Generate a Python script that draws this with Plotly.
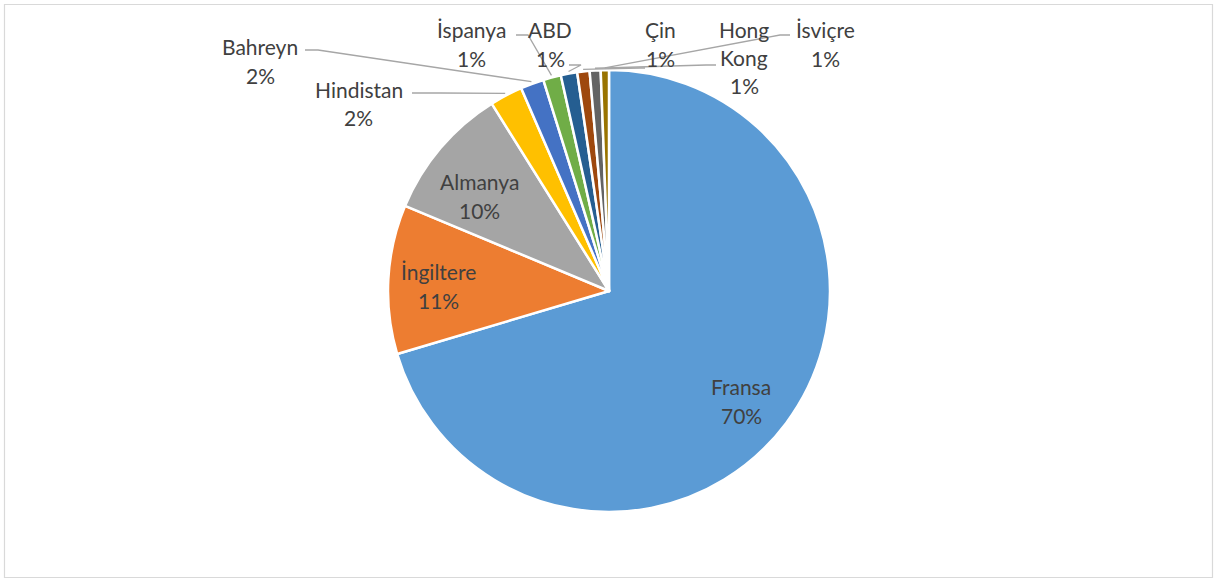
import math
import plotly.graph_objects as go

# ---- data ----
countries = ["Fransa", "İngiltere", "Almanya", "Hindistan", "Bahreyn",
             "İspanya", "ABD", "Çin", "Hong Kong", "İsviçre"]
shares = [70.4, 10.9, 9.8, 2.4, 1.7, 1.3, 1.2, 0.9, 0.8, 0.6]
colors = ["#5B9BD5", "#ED7D31", "#A5A5A5", "#FFC000", "#4472C4",
          "#70AD47", "#255E91", "#9E480E", "#636363", "#997300"]

# ---- layout constants (pixels) ----
W, H = 1215, 581
CX, CY, R = 609, 291, 221
FONT = dict(family="Lato, Calibri, Arial", size=21, color="#404040")
LINE = 28.5

def px(x):
    return x / W

def py(y):
    return 1 - y / H

total = sum(shares)
pcts = [f"{round(v / total * 100)}%" for v in shares]

def mid_angle(i):
    before = sum(shares[:i])
    return 2 * math.pi * (before + shares[i] / 2) / total

def polar(i, frac):
    a = mid_angle(i)
    return CX + frac * R * math.sin(a), CY - frac * R * math.cos(a)

fig = go.Figure(go.Pie(
    labels=countries, values=shares, sort=False, direction="clockwise",
    rotation=0, marker=dict(colors=colors, line=dict(color="white", width=2.5)),
    textinfo="none", hoverinfo="label+percent",
    domain=dict(x=[px(CX - R), px(CX + R)], y=[py(CY + R), py(CY - R)]),
    showlegend=False,
))

annotations = []
shapes = []

def add_lines(lines, x, y_first):
    for k, t in enumerate(lines):
        annotations.append(dict(
            x=px(x), y=py(y_first + k * LINE), xref="paper", yref="paper",
            text=t, showarrow=False, xanchor="center", yanchor="middle", font=FONT))

# inside labels: label block centre (pixels)
inside = {
    "Fransa":    (741, 401),
    "İngiltere": (438, 286),
    "Almanya":   (479, 196),
}

# outside labels: label centre x, first-line y, leader start, horizontal stub end
outside = {
    "Hindistan": (359, 89, (412, 93), (440, 93)),
    "Bahreyn":   (260, 47, (305, 50), (318, 50)),
    "İspanya":   (472, 30, (516, 35), (528, 35)),
    "ABD":       (550, 30, (569, 65), (581, 65)),
    "Çin":       (660, 30, (645, 68), (640, 68)),
    "Hong Kong": (744, 29, (716, 65), (706, 65)),
    "İsviçre":   (825, 30, (790, 35), (780, 35)),
}

for i, name in enumerate(countries):
    if name in inside:
        lx, ly = inside[name]
        add_lines([name, pcts[i]], lx, ly - LINE / 2)
        continue
    x, y0, p0, p1 = outside[name]
    words = name.split(" ") if name == "Hong Kong" else [name]
    add_lines(words + [pcts[i]], x, y0)
    ex, ey = polar(i, 1.01)
    path = (f"M {px(p0[0])} {py(p0[1])} L {px(p1[0])} {py(p1[1])} "
            f"L {px(ex)} {py(ey)}")
    shapes.append(dict(type="path", path=path, xref="paper", yref="paper",
                       line=dict(color="#A6A6A6", width=1.3)))

# chart border
shapes.append(dict(type="rect", xref="paper", yref="paper",
                   x0=px(4.5), y0=py(577.5), x1=px(1212.5), y1=py(4.5),
                   line=dict(color="#D9D9D9", width=1.2)))

fig.update_layout(
    width=W, height=H, margin=dict(l=0, r=0, t=0, b=0),
    paper_bgcolor="white", plot_bgcolor="white",
    annotations=annotations, shapes=shapes, font=FONT,
)

fig.write_html("out.html", config={"displayModeBar": False},
               post_script="document.body.style.margin='0';"
                           "document.body.style.overflow='hidden';")
